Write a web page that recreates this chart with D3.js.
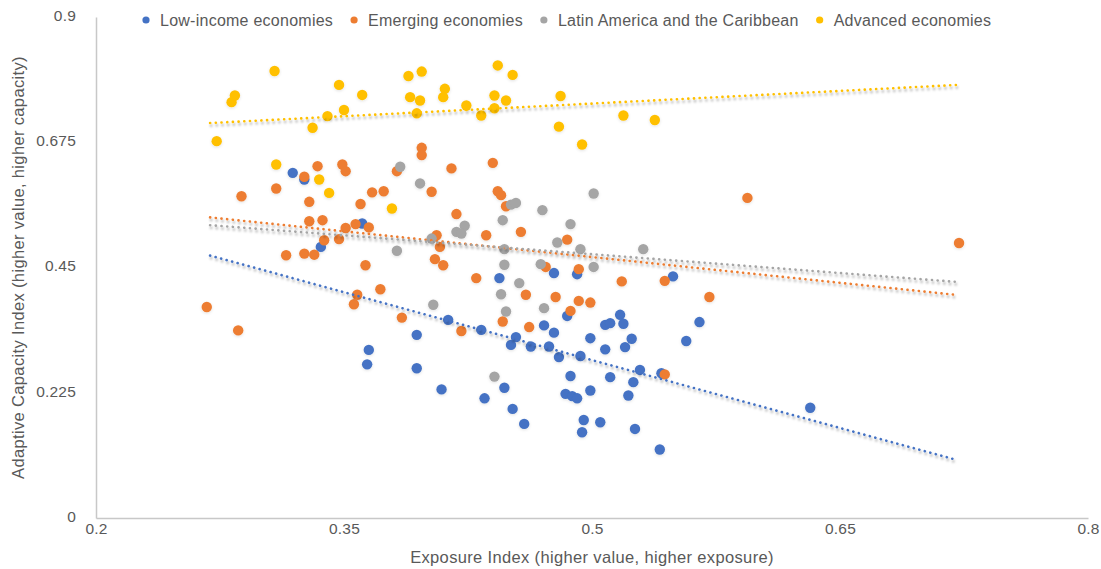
<!DOCTYPE html>
<html>
<head>
<meta charset="utf-8">
<script src="https://cdn.jsdelivr.net/npm/d3@7/dist/d3.min.js"></script>
<style>
  html, body { margin: 0; padding: 0; background: #fff; }
  svg { display: block; font-family: "Helvetica Neue", Helvetica, "Liberation Sans", Arial, sans-serif; }
</style>
</head>
<body>
<svg id="chart" width="1101" height="569"></svg>
<script>
// Exposure (x) vs adaptive capacity (y), one array of [x, y] pairs per group
const lowIncome = [
  [0.319, 0.620], [0.326, 0.608], [0.361, 0.529], [0.336, 0.487], [0.444, 0.431],
  [0.413, 0.356], [0.433, 0.338], [0.394, 0.329], [0.454, 0.325], [0.451, 0.311],
  [0.365, 0.302], [0.364, 0.276], [0.394, 0.269], [0.447, 0.234], [0.409, 0.231],
  [0.435, 0.215], [0.452, 0.196], [0.477, 0.440], [0.491, 0.438], [0.549, 0.434],
  [0.485, 0.363], [0.517, 0.365], [0.508, 0.347], [0.511, 0.350], [0.519, 0.349],
  [0.471, 0.346], [0.477, 0.333], [0.499, 0.323], [0.524, 0.322], [0.463, 0.308],
  [0.474, 0.308], [0.508, 0.303], [0.520, 0.307], [0.480, 0.289], [0.493, 0.291],
  [0.529, 0.266], [0.542, 0.260], [0.487, 0.255], [0.511, 0.253], [0.525, 0.244],
  [0.484, 0.223], [0.488, 0.219], [0.491, 0.215], [0.499, 0.229], [0.522, 0.220],
  [0.459, 0.169], [0.495, 0.176], [0.505, 0.172], [0.494, 0.154], [0.526, 0.160],
  [0.541, 0.123], [0.565, 0.352], [0.557, 0.318], [0.632, 0.198]
];

const emerging = [
  [0.326, 0.613], [0.334, 0.632], [0.349, 0.635], [0.351, 0.623], [0.309, 0.592],
  [0.288, 0.578], [0.329, 0.568], [0.360, 0.564], [0.329, 0.533], [0.337, 0.535],
  [0.351, 0.521], [0.357, 0.528], [0.338, 0.499], [0.347, 0.501], [0.315, 0.472],
  [0.326, 0.475], [0.332, 0.473], [0.358, 0.401], [0.356, 0.384], [0.267, 0.379],
  [0.286, 0.337], [0.397, 0.665], [0.397, 0.652], [0.382, 0.623], [0.415, 0.628],
  [0.440, 0.638], [0.367, 0.585], [0.374, 0.587], [0.403, 0.586], [0.443, 0.587],
  [0.445, 0.580], [0.448, 0.560], [0.418, 0.546], [0.365, 0.522], [0.436, 0.508],
  [0.457, 0.514], [0.406, 0.508], [0.408, 0.487], [0.405, 0.465], [0.410, 0.454],
  [0.363, 0.454], [0.430, 0.431], [0.372, 0.411], [0.385, 0.360], [0.446, 0.353],
  [0.421, 0.336], [0.485, 0.500], [0.472, 0.451], [0.492, 0.447], [0.518, 0.425],
  [0.544, 0.426], [0.460, 0.401], [0.478, 0.397], [0.492, 0.390], [0.499, 0.387],
  [0.487, 0.372], [0.462, 0.343], [0.544, 0.258], [0.594, 0.575], [0.722, 0.494],
  [0.571, 0.397]
];

const latinAmerica = [
  [0.384, 0.631], [0.396, 0.601], [0.423, 0.525], [0.418, 0.514], [0.421, 0.511],
  [0.446, 0.535], [0.451, 0.563], [0.454, 0.566], [0.501, 0.583], [0.470, 0.553],
  [0.487, 0.528], [0.403, 0.502], [0.382, 0.480], [0.447, 0.483], [0.447, 0.455],
  [0.456, 0.422], [0.445, 0.402], [0.404, 0.383], [0.448, 0.371], [0.441, 0.254],
  [0.479, 0.495], [0.493, 0.483], [0.531, 0.483], [0.469, 0.456], [0.501, 0.451],
  [0.471, 0.377]
];

const advanced = [
  [0.308, 0.803], [0.347, 0.778], [0.284, 0.759], [0.282, 0.747], [0.361, 0.760],
  [0.340, 0.722], [0.350, 0.733], [0.331, 0.701], [0.273, 0.677], [0.309, 0.635],
  [0.335, 0.608], [0.341, 0.584], [0.389, 0.794], [0.397, 0.802], [0.390, 0.756],
  [0.396, 0.750], [0.411, 0.771], [0.410, 0.756], [0.394, 0.727], [0.424, 0.741],
  [0.433, 0.723], [0.443, 0.813], [0.452, 0.796], [0.441, 0.759], [0.448, 0.750],
  [0.441, 0.736], [0.379, 0.556], [0.481, 0.758], [0.519, 0.723], [0.538, 0.715],
  [0.480, 0.703], [0.494, 0.671]
];

// Linear trend lines: fitted values at the left and right ends of the x range
const trendX = [0.269, 0.721];
const trendLowIncome = [0.4715, 0.104];
const trendEmerging = [0.540, 0.4006];
const trendLatinAmerica = [0.526, 0.424];
const trendAdvanced = [0.7095, 0.778];

const seriesNames = ["Low-income economies", "Emerging economies", "Latin America and the Caribbean", "Advanced economies"];
const seriesPoints = [lowIncome, emerging, latinAmerica, advanced];
const seriesTrends = [trendLowIncome, trendEmerging, trendLatinAmerica, trendAdvanced];
const seriesColors = ["#4472C4", "#ED7D31", "#A5A5A5", "#FFC000"];

const xTicks = [0.2, 0.35, 0.5, 0.65, 0.8];
const xTickLabels = ["0.2", "0.35", "0.5", "0.65", "0.8"];
const yTicks = [0, 0.225, 0.45, 0.675, 0.9];
const yTickLabels = ["0", "0.225", "0.45", "0.675", "0.9"];

const xTitle = "Exposure Index (higher value, higher exposure)";
const yTitle = "Adaptive Capacity Index (higher value, higher capacity)";

const svg = d3.select("#chart");
const plot = { left: 96, right: 1088, top: 17, bottom: 518 };

const x = d3.scaleLinear().domain([0.2, 0.8]).range([plot.left, plot.right]);
const y = d3.scaleLinear().domain([0, 0.9]).range([plot.bottom, plot.top]);

const textColor = "#595959";
const axisColor = "#C8C8C8";

// Filters: soft shadow under trend lines, faint halo around markers
const defs = svg.append("defs");
const trendShadow = defs.append("filter").attr("id", "trendShadow")
  .attr("x", "-5%").attr("y", "-50%").attr("width", "110%").attr("height", "200%");
trendShadow.append("feDropShadow")
  .attr("dx", 1).attr("dy", 2.5).attr("stdDeviation", 1.2)
  .attr("flood-color", "#000").attr("flood-opacity", 0.32);

const markerShadow = defs.append("filter").attr("id", "markerShadow")
  .attr("x", "-50%").attr("y", "-50%").attr("width", "200%").attr("height", "200%");
markerShadow.append("feDropShadow")
  .attr("dx", 0).attr("dy", 1).attr("stdDeviation", 1.5)
  .attr("flood-color", "#000").attr("flood-opacity", 0.12);

// Axes
const xAxis = d3.axisBottom(x).tickValues(xTicks)
  .tickFormat((d, i) => xTickLabels[i]).tickSize(0).tickPadding(8);
const yAxis = d3.axisLeft(y).tickValues(yTicks)
  .tickFormat((d, i) => yTickLabels[i]).tickSize(0).tickPadding(20);

const gx = svg.append("g").attr("transform", `translate(0,${plot.bottom})`).call(xAxis);
const gy = svg.append("g").attr("transform", `translate(${plot.left},0)`).call(yAxis);

[gx, gy].forEach(g => {
  g.select(".domain").attr("stroke", axisColor).attr("stroke-width", 1.5);
  g.selectAll(".tick text")
    .attr("fill", textColor)
    .style("font-size", "15.5px")
    .style("letter-spacing", "0.2px")
    .style("font-family", "\"Helvetica Neue\", Helvetica, \"Liberation Sans\", Arial, sans-serif");
});
gy.selectAll(".tick text").attr("dy", "0.22em");
gx.selectAll(".tick text").attr("dy", "0.5em");

// Axis titles
svg.append("text")
  .attr("x", (plot.left + plot.right) / 2).attr("y", 563)
  .attr("text-anchor", "middle").attr("fill", textColor)
  .style("font-size", "16.5px").style("letter-spacing", "0.35px").text(xTitle);

svg.append("text")
  .attr("transform", `translate(24,${(plot.top + plot.bottom) / 2}) rotate(-90)`)
  .attr("text-anchor", "middle").attr("fill", textColor)
  .style("font-size", "16.5px").style("letter-spacing", "0.35px").text(yTitle);

// Scatter markers
const markers = svg.append("g").attr("filter", "url(#markerShadow)");
seriesPoints.forEach((pts, i) => {
  markers.append("g").selectAll("circle").data(pts).join("circle")
    .attr("cx", d => x(d[0])).attr("cy", d => y(d[1])).attr("r", 5.2)
    .attr("fill", seriesColors[i]);
});

// Dotted trend lines
const line = d3.line().x(d => x(d[0])).y(d => y(d[1]));
const trends = svg.append("g").attr("filter", "url(#trendShadow)");
seriesTrends.forEach((t, i) => {
  trends.append("path")
    .datum([[trendX[0], t[0]], [trendX[1], t[1]]])
    .attr("d", line)
    .attr("fill", "none")
    .attr("stroke", seriesColors[i])
    .attr("stroke-width", 2.6)
    .attr("stroke-linecap", "round")
    .attr("stroke-dasharray", "0.1 5.6");
});

// Legend across the top
const legend = svg.append("g").attr("transform", "translate(146,20)");
let offset = 0;
seriesNames.forEach((name, i) => {
  const item = legend.append("g").attr("transform", `translate(${offset},0)`);
  item.append("circle").attr("r", 3.6).attr("cx", 0).attr("cy", 0).attr("fill", seriesColors[i]);
  const label = item.append("text").attr("x", 14).attr("y", 5.5)
    .attr("fill", textColor).style("font-size", "16px").style("letter-spacing", "0.25px").text(name);
  offset += 14 + label.node().getComputedTextLength() + 21;
});
</script>
</body>
</html>
